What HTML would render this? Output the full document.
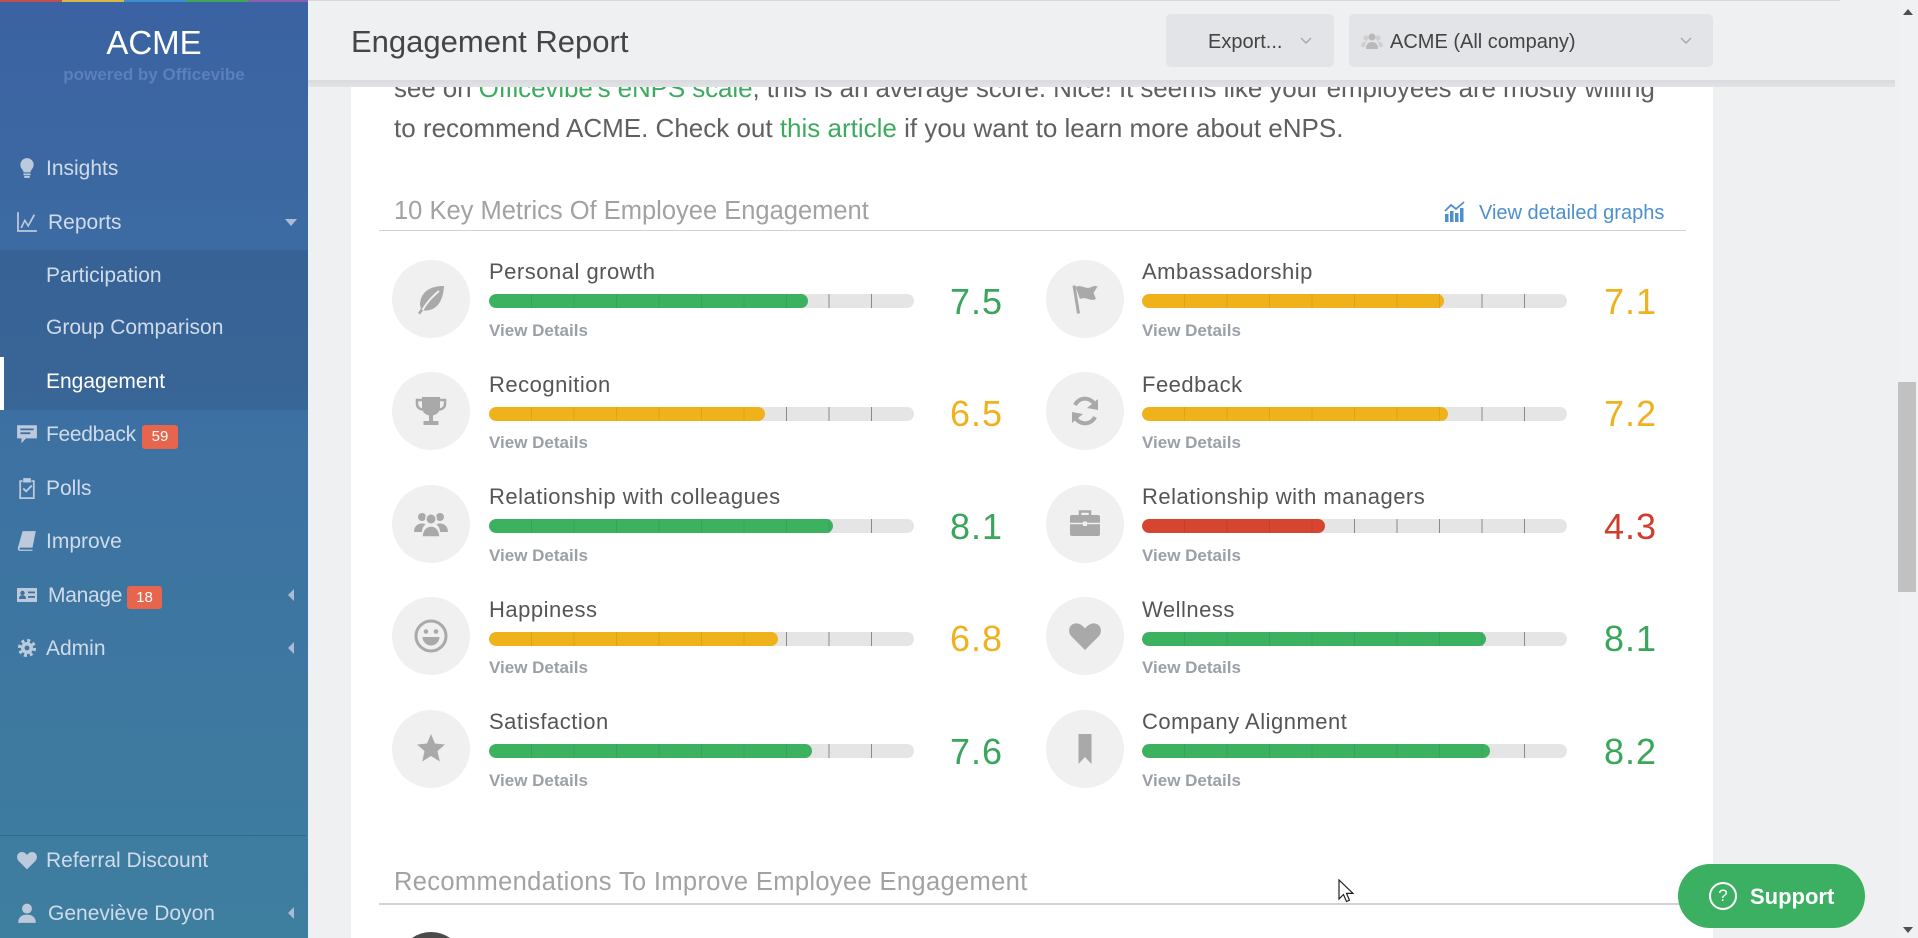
<!DOCTYPE html>
<html><head><meta charset="utf-8">
<style>
*{margin:0;padding:0;box-sizing:border-box}
html,body{width:1918px;height:938px;overflow:hidden;background:#eff0f2;font-family:"Liberation Sans",Arial,sans-serif}
#wrap{position:relative;width:1918px;height:938px;overflow:hidden;background:#eff0f2}
.a{position:absolute;white-space:nowrap;line-height:1}
#sb{position:absolute;left:0;top:0;width:308px;height:938px;background:linear-gradient(#3b62a2,#3d72a2 50%,#3e7e9f)}
.mi{position:absolute;left:46px;font-size:21px;color:#d0dbea;white-space:nowrap;line-height:1}
.si{position:absolute;left:16px;width:22px;height:22px}
.si *{fill:#bccadb}
.badge{position:absolute;background:#e8654d;color:#fff;font-size:15px;line-height:24px;text-align:center;border-radius:3px}
.tri-d{position:absolute;width:0;height:0;border-left:6px solid transparent;border-right:6px solid transparent;border-top:7px solid #a9bcd6}
.tri-l{position:absolute;width:0;height:0;border-top:6px solid transparent;border-bottom:6px solid transparent;border-right:6px solid #a9bcd6}
.circ{position:absolute;width:78px;height:78px;border-radius:50%;background:#f0f0f0;display:flex;align-items:center;justify-content:center}
.circ svg{width:40px;height:40px}
.circ svg *{fill:#a9a9a9}
.lab{position:absolute;font-size:22px;letter-spacing:.5px;color:#555;line-height:1;white-space:nowrap}
.vd{position:absolute;font-size:17px;font-weight:bold;color:#9aa0a6;line-height:1;white-space:nowrap}
.val{position:absolute;font-size:36px;letter-spacing:1px;line-height:1}
.bar{position:absolute;height:14px;width:425px;border-radius:7px;background:#e5e5e5;overflow:hidden}
.bar .t{position:absolute;left:42px;top:0;width:341px;height:14px;background:repeating-linear-gradient(to right,#8a8a8a 0 1px,transparent 1px 42.5px)}
.bar .f{position:absolute;left:0;top:0;height:14px;border-radius:7px;overflow:hidden}
.bar .f .t{background:repeating-linear-gradient(to right,rgba(0,0,0,.08) 0 1px,transparent 1px 42.5px)}
.g{background:#3cb15f}.y{background:#efb21a}.r{background:#d6452f}
.cg{color:#3aa65c}.cy{color:#efb11e}.cr{color:#cf3e2c}
</style></head><body>
<div id="wrap">

<!-- sidebar -->
<div id="sb"></div>
<div style="position:absolute;left:0;top:0;width:62px;height:2px;background:#c0504d"></div>
<div style="position:absolute;left:62px;top:0;width:62px;height:2px;background:#d4b94a"></div>
<div style="position:absolute;left:124px;top:0;width:62px;height:2px;background:#3b8ed0"></div>
<div style="position:absolute;left:186px;top:0;width:62px;height:2px;background:#3fa55a"></div>
<div style="position:absolute;left:248px;top:0;width:60px;height:2px;background:#8a5fb0"></div>
<div class="a" style="left:0;width:308px;text-align:center;top:26px;font-size:33px;color:#fff">ACME</div>
<div class="a" style="left:0;width:308px;text-align:center;top:66px;font-size:17px;font-weight:bold;color:#5a81bc">powered by Officevibe</div>

<div style="position:absolute;left:0;top:250px;width:308px;height:160px;background:rgba(20,35,70,.13)"></div>
<div style="position:absolute;left:0;top:357px;width:4px;height:53px;background:#fff"></div>
<div style="position:absolute;left:0;top:835px;width:306px;height:1px;background:rgba(0,0,0,.15)"></div>

<svg class="si" style="top:157px" viewBox="0 0 20 20"><path d="M10 1a6 6 0 0 0-6 6c0 2.5 1.5 3.8 2.3 5.2.4.7.5 1.3.5 1.8h6.4c0-.5.1-1.1.5-1.8C14.5 10.8 16 9.5 16 7a6 6 0 0 0-6-6z"/><rect x="6.8" y="15" width="6.4" height="1.6"/><rect x="7.5" y="17.2" width="5" height="1.8"/></svg>
<div class="mi" style="top:157.7px">Insights</div>
<svg class="si" style="top:211px" viewBox="0 0 20 20"><path d="M1 1h1.6v16.4H19V19H1z"/><path d="M4 15l4-8 3 5 5-9 1.4.8-6.3 11.2-3-5-2.7 5.8z"/></svg>
<div class="mi" style="top:211.7px;left:48px">Reports</div>
<div class="tri-d" style="left:285px;top:219px"></div>
<div class="mi" style="top:264.7px">Participation</div>
<div class="mi" style="top:316.7px">Group Comparison</div>
<div class="mi" style="top:370.7px;color:#fff">Engagement</div>
<svg class="si" style="top:423px" viewBox="0 0 20 20"><path d="M1 2h18v12H9l-4 4.5V14H1z"/><rect x="4" y="5" width="12" height="1.6" style="fill:#3f6aa2"/><rect x="4" y="8.5" width="9" height="1.6" style="fill:#3f6aa2"/></svg>
<div class="mi" style="top:423.7px;letter-spacing:-.3px">Feedback</div>
<div class="badge" style="left:142px;top:425px;width:36px;height:24px">59</div>
<svg class="si" style="top:477px" viewBox="0 0 20 20"><path d="M3 3h3v1.6H4.6v13.8h10.8V4.6H14V3h3v17H3z"/><rect x="6.5" y="1" width="7" height="4"/><path d="M6 11l1.2-1.2 2 2 4.5-4.6L15 8.4l-5.8 5.8z"/></svg>
<div class="mi" style="top:477.7px">Polls</div>
<svg class="si" style="top:530px" viewBox="0 0 20 20"><path d="M6 1h12l-3 15H4c-1 0-1.2 1.8 0 1.8h11V19H3.5C1.5 19 1.3 16.5 2 15z"/></svg>
<div class="mi" style="top:530.7px">Improve</div>
<svg class="si" style="top:584px" viewBox="0 0 22 20"><path d="M1 3h20v14H1z"/><circle cx="6.5" cy="8" r="2.2" style="fill:#3f70a2"/><path d="M3 14c0-3 1.5-3.8 3.5-3.8S10 11 10 14z" style="fill:#3f70a2"/><rect x="12" y="6.5" width="7" height="1.8" style="fill:#3f70a2"/><rect x="12" y="11" width="7" height="1.8" style="fill:#3f70a2"/></svg>
<div class="mi" style="top:584.7px;left:48px;letter-spacing:-.3px">Manage</div>
<div class="badge" style="left:127px;top:586px;width:35px;height:23px;line-height:23px">18</div>
<div class="tri-l" style="left:288px;top:589px"></div>
<svg class="si" style="top:637px" viewBox="0 0 20 20"><circle cx="10" cy="10" r="6.5" style="fill:none;stroke:#bccadb;stroke-width:3.5;stroke-dasharray:2.6 2.5"/><circle cx="10" cy="10" r="5.5"/><circle cx="10" cy="10" r="2.2" style="fill:#3f74a1"/></svg>
<div class="mi" style="top:637.7px">Admin</div>
<div class="tri-l" style="left:288px;top:642px"></div>
<svg class="si" style="top:849px" viewBox="0 0 20 20"><path d="M10 18.5L2.5 11C0 8.5.5 3.5 4.5 2.8 7 2.4 8.8 3.8 10 5.5c1.2-1.7 3-3.1 5.5-2.7 4 .7 4.5 5.7 2 8.2z"/></svg>
<div class="mi" style="top:849.7px">Referral Discount</div>
<svg class="si" style="top:902px" viewBox="0 0 20 20"><circle cx="10" cy="6" r="4.5"/><path d="M2 19c0-5 3-7.5 8-7.5s8 2.5 8 7.5z"/></svg>
<div class="mi" style="top:902.7px;left:48px">Geneviève Doyon</div>
<div class="tri-l" style="left:288px;top:907px"></div>

<!-- card -->
<div style="position:absolute;left:351px;top:80px;width:1362px;height:858px;background:#fff"></div>

<div class="a" style="left:394px;top:75px;font-size:26px;letter-spacing:-.1px;color:#606060">see on <span style="color:#3dab5f">Officevibe's eNPS scale</span>, this is an average score. Nice! It seems like your employees are mostly willing</div>
<div class="a" style="left:394px;top:115px;font-size:26px;color:#606060">to recommend ACME. Check out <span style="color:#3dab5f">this article</span> if you want to learn more about eNPS.</div>

<!-- header -->
<div style="position:absolute;left:308px;top:0;width:1590px;height:80px;background:#eff0f2"></div>
<div style="position:absolute;left:308px;top:0;width:1532px;height:1px;background:#d8d8d8"></div>
<div style="position:absolute;left:308px;top:80px;width:1587px;height:7px;background:linear-gradient(#d9dadd,#e2e3e6)"></div>
<div class="a" style="left:351px;top:25.8px;font-size:31px;color:#454545">Engagement Report</div>
<div style="position:absolute;left:1166px;top:14px;width:168px;height:53px;background:#e3e4e7;border-radius:5px"></div>
<div class="a" style="left:1208px;top:32px;font-size:20px;color:#444">Export...</div>
<svg style="position:absolute;left:1300px;top:37px" width="12" height="8" viewBox="0 0 12 8"><polyline points="1,1 6,6 11,1" fill="none" stroke="#a8a8a8" stroke-width="1.4"/></svg>
<div style="position:absolute;left:1349px;top:14px;width:364px;height:53px;background:#e3e4e7;border-radius:5px"></div>
<svg style="position:absolute;left:1361px;top:31px" width="22" height="20" viewBox="0 0 22 20"><circle cx="11" cy="6" r="3.5" fill="#b9b9b9"/><path d="M5 18c0-5 2.5-7 6-7s6 2 6 7z" fill="#b9b9b9"/><circle cx="5" cy="7" r="2.6" fill="#cfcfcf"/><circle cx="17" cy="7" r="2.6" fill="#cfcfcf"/><path d="M0 16c0-4 2-5.5 5-5.5l1 .3c-1.3 1.3-2 3-2 5.2z" fill="#cfcfcf"/><path d="M22 16c0-4-2-5.5-5-5.5l-1 .3c1.3 1.3 2 3 2 5.2z" fill="#cfcfcf"/></svg>
<div class="a" style="left:1390px;top:32px;font-size:20px;color:#444">ACME (All company)</div>
<svg style="position:absolute;left:1680px;top:37px" width="12" height="8" viewBox="0 0 12 8"><polyline points="1,1 6,6 11,1" fill="none" stroke="#a8a8a8" stroke-width="1.4"/></svg>

<!-- section title -->
<div class="a" style="left:394px;top:198.8px;font-size:25.5px;color:#a2a2a2">10 Key Metrics Of Employee Engagement</div>
<svg style="position:absolute;left:1444px;top:201px" width="22" height="21" viewBox="0 0 22 21"><rect x="1" y="13" width="3.5" height="8" fill="#4d8fcf"/><rect x="6" y="10" width="3.5" height="11" fill="#4d8fcf"/><rect x="11" y="12" width="3.5" height="9" fill="#4d8fcf"/><rect x="16" y="7" width="3.5" height="14" fill="#4d8fcf"/><polyline points="1,10 7,4 12,8 20,1" fill="none" stroke="#4d8fcf" stroke-width="1.8"/></svg>
<div class="a" style="left:1479px;top:203px;font-size:20px;color:#4d8fcf">View detailed graphs</div>
<div style="position:absolute;left:379px;top:229.5px;width:1307px;height:1.5px;background:#d3d3d3"></div>

<!-- LEFT COLUMN -->
<div class="circ" style="left:392px;top:259.5px"><svg viewBox="0 0 40 40"><path d="M33 7C20 7 10 12 9 25c0 2 .5 3.5 1 4.5L7 34l2 1.5 3-4c13 1 20-8 21-24.5z"/><path d="M11.5 31C16 23 21 18 28 12" style="fill:none;stroke:#f0f0f0;stroke-width:2"/></svg></div>
<div class="lab" style="left:489px;top:261.4px">Personal growth</div>
<div class="bar" style="left:489px;top:294px"><div class="t"></div><div class="f g" style="width:319px"><div class="t"></div></div></div>
<div class="vd" style="left:489px;top:321.6px">View Details</div>
<div class="val cg" style="left:950px;top:283.5px">7.5</div>

<div class="circ" style="left:392px;top:372px"><svg viewBox="0 0 40 40"><path d="M11 6h18v10c0 5.5-4 8.5-9 8.5s-9-3-9-8.5z"/><path d="M11 9H6v4c0 3.5 3 5.5 6 5.5M29 9h5v4c0 3.5-3 5.5-6 5.5" style="fill:none;stroke:#a9a9a9;stroke-width:2.5"/><rect x="18" y="24" width="4" height="6"/><rect x="12.5" y="30" width="15" height="4"/></svg></div>
<div class="lab" style="left:489px;top:373.9px">Recognition</div>
<div class="bar" style="left:489px;top:406.5px"><div class="t"></div><div class="f y" style="width:276px"><div class="t"></div></div></div>
<div class="vd" style="left:489px;top:434.1px">View Details</div>
<div class="val cy" style="left:950px;top:396px">6.5</div>

<div class="circ" style="left:392px;top:484.5px"><svg viewBox="0 0 40 40"><circle cx="11" cy="13" r="4"/><circle cx="29" cy="13" r="4"/><path d="M3 28c0-5 3-8.5 8-8.5 1.5 0 2.5.3 3.5 1-2.5 2-3.5 4.5-3.5 7.5zM37 28c0-5-3-8.5-8-8.5-1.5 0-2.5.3-3.5 1 2.5 2 3.5 4.5 3.5 7.5z"/><circle cx="20" cy="15" r="5.2" style="stroke:#f0f0f0;stroke-width:1.5"/><path d="M11 33c0-7 4-11 9-11s9 4 9 11z" style="stroke:#f0f0f0;stroke-width:1.5"/></svg></div>
<div class="lab" style="left:489px;top:486.4px">Relationship with colleagues</div>
<div class="bar" style="left:489px;top:519px"><div class="t"></div><div class="f g" style="width:344px"><div class="t"></div></div></div>
<div class="vd" style="left:489px;top:546.6px">View Details</div>
<div class="val cg" style="left:950px;top:508.5px">8.1</div>

<div class="circ" style="left:392px;top:597px"><svg viewBox="0 0 40 40"><circle cx="20" cy="20" r="15" style="fill:none;stroke:#a9a9a9;stroke-width:3"/><circle cx="15" cy="15.5" r="2.3"/><circle cx="25" cy="15.5" r="2.3"/><path d="M11.5 21h17a8.5 8.5 0 0 1-17 0z"/></svg></div>
<div class="lab" style="left:489px;top:598.9px">Happiness</div>
<div class="bar" style="left:489px;top:631.5px"><div class="t"></div><div class="f y" style="width:289px"><div class="t"></div></div></div>
<div class="vd" style="left:489px;top:659.1px">View Details</div>
<div class="val cy" style="left:950px;top:621px">6.8</div>

<div class="circ" style="left:392px;top:709.5px"><svg viewBox="0 0 40 40"><polygon points="20,5 24,14.5 34,15.5 26.5,22 28.8,32.5 20,27 11.2,32.5 13.5,22 6,15.5 16,14.5"/></svg></div>
<div class="lab" style="left:489px;top:711.4px">Satisfaction</div>
<div class="bar" style="left:489px;top:744px"><div class="t"></div><div class="f g" style="width:323px"><div class="t"></div></div></div>
<div class="vd" style="left:489px;top:771.6px">View Details</div>
<div class="val cg" style="left:950px;top:733.5px">7.6</div>

<!-- RIGHT COLUMN -->
<div class="circ" style="left:1046px;top:259.5px"><svg viewBox="0 0 40 40"><path d="M9 6.5l4.5 28" style="fill:none;stroke:#a9a9a9;stroke-width:3"/><path d="M10.5 8c6-3 10 3 16 0 2-1 4-1.5 6-.5l-4 6.5 2.5 6c-6 3-10-3-16 0z"/></svg></div>
<div class="lab" style="left:1142px;top:261.4px">Ambassadorship</div>
<div class="bar" style="left:1142px;top:294px"><div class="t"></div><div class="f y" style="width:302px"><div class="t"></div></div></div>
<div class="vd" style="left:1142px;top:321.6px">View Details</div>
<div class="val cy" style="left:1604px;top:283.5px">7.1</div>

<div class="circ" style="left:1046px;top:372px"><svg viewBox="0 0 40 40"><path d="M30.5 15.5A11 11 0 0 0 10 14" style="fill:none;stroke:#a9a9a9;stroke-width:4"/><polygon points="33,8 33,19 22,17"/><path d="M9.5 24.5A11 11 0 0 0 30 26" style="fill:none;stroke:#a9a9a9;stroke-width:4"/><polygon points="7,32 7,21 18,23"/></svg></div>
<div class="lab" style="left:1142px;top:373.9px">Feedback</div>
<div class="bar" style="left:1142px;top:406.5px"><div class="t"></div><div class="f y" style="width:306px"><div class="t"></div></div></div>
<div class="vd" style="left:1142px;top:434.1px">View Details</div>
<div class="val cy" style="left:1604px;top:396px">7.2</div>

<div class="circ" style="left:1046px;top:484.5px"><svg viewBox="0 0 40 40"><path d="M15 11V7.5h10V11" style="fill:none;stroke:#a9a9a9;stroke-width:2.5"/><rect x="5" y="11" width="30" height="21" rx="2"/><path d="M5 19.5h30" style="stroke:#f0f0f0;stroke-width:1.5"/><rect x="18" y="17.5" width="4" height="4.5" style="fill:#f0f0f0"/></svg></div>
<div class="lab" style="left:1142px;top:486.4px">Relationship with managers</div>
<div class="bar" style="left:1142px;top:519px"><div class="t"></div><div class="f r" style="width:183px"><div class="t"></div></div></div>
<div class="vd" style="left:1142px;top:546.6px">View Details</div>
<div class="val cr" style="left:1604px;top:508.5px">4.3</div>

<div class="circ" style="left:1046px;top:597px"><svg viewBox="0 0 40 40"><path d="M20 34L6.5 20.5C2.5 16.5 3.5 8.5 10 7.5c4.2-.6 7.5 2 10 5 2.5-3 5.8-5.6 10-5 6.5 1 7.5 9 3.5 13z"/></svg></div>
<div class="lab" style="left:1142px;top:598.9px">Wellness</div>
<div class="bar" style="left:1142px;top:631.5px"><div class="t"></div><div class="f g" style="width:344px"><div class="t"></div></div></div>
<div class="vd" style="left:1142px;top:659.1px">View Details</div>
<div class="val cg" style="left:1604px;top:621px">8.1</div>

<div class="circ" style="left:1046px;top:709.5px"><svg viewBox="0 0 40 40"><path d="M13.5 5h13v30l-6.5-7-6.5 7z"/></svg></div>
<div class="lab" style="left:1142px;top:711.4px">Company Alignment</div>
<div class="bar" style="left:1142px;top:744px"><div class="t"></div><div class="f g" style="width:348px"><div class="t"></div></div></div>
<div class="vd" style="left:1142px;top:771.6px">View Details</div>
<div class="val cg" style="left:1604px;top:733.5px">8.2</div>

<!-- recommendations -->
<div class="a" style="left:394px;top:870px;font-size:25.5px;letter-spacing:.35px;color:#a2a2a2">Recommendations To Improve Employee Engagement</div>
<div style="position:absolute;left:379px;top:903px;width:1307px;height:1.5px;background:#d3d3d3"></div>
<svg style="position:absolute;left:398px;top:932px" width="66" height="6" viewBox="0 0 66 6"><path d="M14.03 6A33 33 0 0 1 51.97 6Z" fill="#4b4b4b"/></svg>

<!-- cursor -->
<svg style="position:absolute;left:1338px;top:879px" width="16" height="24" viewBox="0 0 16 24"><path d="M1 1v19l4.5-4.5 3 7 3-1.3-3-6.8H15z" fill="#fff" stroke="#222" stroke-width="1.2"/></svg>

<!-- support -->
<div style="position:absolute;left:1678px;top:864px;width:187px;height:64px;border-radius:32px;background:#3cb062"></div>
<div style="position:absolute;left:1709px;top:882px;width:28px;height:28px;border-radius:50%;border:2.5px solid #fff;color:#fff;font-size:17px;line-height:23px;text-align:center">?</div>
<div class="a" style="left:1750px;top:886.4px;font-size:22px;font-weight:bold;color:#fff">Support</div>

<!-- scrollbar -->
<div style="position:absolute;left:1898px;top:0;width:20px;height:938px;background:#f0f1f3"></div>
<div style="position:absolute;left:1898px;top:382px;width:18px;height:210px;background:#c1c1c1"></div>
<div style="position:absolute;left:1903px;top:9px;width:0;height:0;border-left:5px solid transparent;border-right:5px solid transparent;border-bottom:6px solid #505050"></div>
<div style="position:absolute;left:1903px;top:927px;width:0;height:0;border-left:5px solid transparent;border-right:5px solid transparent;border-top:6px solid #505050"></div>

</div>
</body></html>
